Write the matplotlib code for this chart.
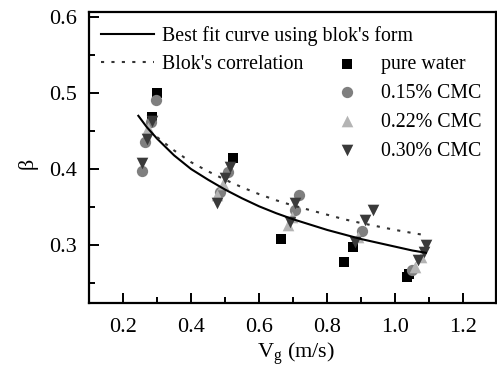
import matplotlib
matplotlib.use("Agg")
import matplotlib.pyplot as plt
from matplotlib.ticker import MultipleLocator

plt.rcParams["font.family"] = ["Liberation Serif", "DejaVu Serif"]
plt.rcParams["mathtext.fontset"] = "custom"
plt.rcParams["mathtext.rm"] = "Liberation Serif"
plt.rcParams["mathtext.it"] = "Liberation Serif"

# Measured beta values for each liquid
water_vg = [0.285, 0.300, 0.522, 0.664, 0.850, 0.877, 1.034, 1.040]
water_b = [0.469, 0.500, 0.414, 0.308, 0.278, 0.298, 0.258, 0.262]

cmc15_vg = [0.256, 0.265, 0.282, 0.298, 0.486, 0.508, 0.716, 0.706, 0.901, 1.048]
cmc15_b = [0.397, 0.436, 0.462, 0.491, 0.370, 0.396, 0.366, 0.346, 0.318, 0.267]

cmc22_vg = [0.274, 0.476, 0.495, 0.696, 0.686, 0.891, 1.058, 1.075]
cmc22_b = [0.454, 0.366, 0.381, 0.337, 0.326, 0.311, 0.271, 0.285]

cmc30_vg = [0.256, 0.270, 0.286, 0.476, 0.500, 0.515, 0.706, 0.691, 0.882, 0.911,
            0.935, 1.068, 1.083, 1.090]
cmc30_b = [0.408, 0.440, 0.463, 0.355, 0.388, 0.403, 0.355, 0.331, 0.304, 0.333,
           0.346, 0.280, 0.291, 0.300]

# Curves
fit_vg = [0.245, 0.27, 0.30, 0.35, 0.40, 0.45, 0.50, 0.55, 0.60, 0.65, 0.70,
          0.75, 0.80, 0.85, 0.90, 0.95, 1.00, 1.05, 1.09]
fit_b = [0.470, 0.455, 0.440, 0.418, 0.400, 0.386, 0.373, 0.3615, 0.351, 0.342,
         0.334, 0.327, 0.320, 0.314, 0.308, 0.303, 0.298, 0.293, 0.290]

blok_vg = [0.30, 0.35, 0.40, 0.45, 0.50, 0.55, 0.60, 0.65, 0.70, 0.75, 0.80,
           0.85, 0.90, 0.95, 1.00, 1.05, 1.09]
blok_b = [0.442, 0.4245, 0.409, 0.397, 0.386, 0.376, 0.367, 0.359, 0.352, 0.346,
          0.340, 0.334, 0.329, 0.3245, 0.320, 0.316, 0.313]

x_ticks = [0.2, 0.4, 0.6, 0.8, 1.0, 1.2]
y_ticks = [0.3, 0.4, 0.5, 0.6]

fig = plt.figure(figsize=(4.97, 3.67), dpi=100)
ax = fig.add_axes([89 / 497, 1 - 303 / 367, 407 / 497, 290.7 / 367])

ms = 58
h_w = ax.scatter(water_vg, water_b, marker="s", s=ms, color="black", lw=0, label="pure water", zorder=3)
h_15 = ax.scatter(cmc15_vg, cmc15_b, marker="o", s=ms + 8, color="#7f7f7f", lw=0, label="0.15% CMC", zorder=3)
h_22 = ax.scatter(cmc22_vg, cmc22_b, marker="^", s=ms + 12, color="#b4b4b4", lw=0, label="0.22% CMC", zorder=3)
h_30 = ax.scatter(cmc30_vg, cmc30_b, marker="v", s=ms + 12, color="#3a3a3a", lw=0, label="0.30% CMC", zorder=3)

l_fit, = ax.plot(fit_vg, fit_b, color="black", lw=1.5, zorder=4,
                 label="Best fit curve using blok's form")
l_blok, = ax.plot(blok_vg, blok_b, color="#333333", lw=1.5, ls=(0, (1.5, 3.5)), zorder=4,
                  label="Blok's correlation")

ax.set_xlim(0.1, 1.296)
ax.set_ylim(0.224, 0.606)
ax.set_xticks(x_ticks)
ax.set_yticks(y_ticks)
ax.xaxis.set_minor_locator(MultipleLocator(0.1))
ax.yaxis.set_minor_locator(MultipleLocator(0.05))
ax.set_xticklabels([f"{v:.1f}" for v in x_ticks])
ax.set_yticklabels([f"{v:.1f}" for v in y_ticks])
ax.tick_params(which="both", direction="in", top=False, right=False, width=1.4)
ax.tick_params(which="major", length=7, labelsize=16)
ax.tick_params(axis="x", which="major", pad=11)
ax.tick_params(axis="y", which="major", pad=9)
ax.tick_params(which="minor", length=4)
for sp in ax.spines.values():
    sp.set_linewidth(1.6)

ax.set_xlabel("V$_{\\mathrm{g}}$ (m/s)", fontsize=16)
ax.set_ylabel("β", fontsize=16)
ax.xaxis.set_label_coords(0.509, -0.128)
ax.yaxis.set_label_coords(-0.125, 0.482)

leg1 = ax.legend(handles=[l_fit, l_blok], loc="upper left", bbox_to_anchor=(0.03, 0.951),
                 frameon=False, fontsize=14.3, handlelength=2.66, handletextpad=0.4,
                 borderpad=0, borderaxespad=0, labelspacing=0.45)
ax.add_artist(leg1)
ax.legend(handles=[h_w, h_15, h_22, h_30], loc="upper left", bbox_to_anchor=(0.609, 0.854),
          frameon=False, fontsize=14.3, handlelength=1.0, handletextpad=1.2,
          borderpad=0, borderaxespad=0, labelspacing=0.5, scatterpoints=1)

fig.savefig("out.png", dpi=100)
